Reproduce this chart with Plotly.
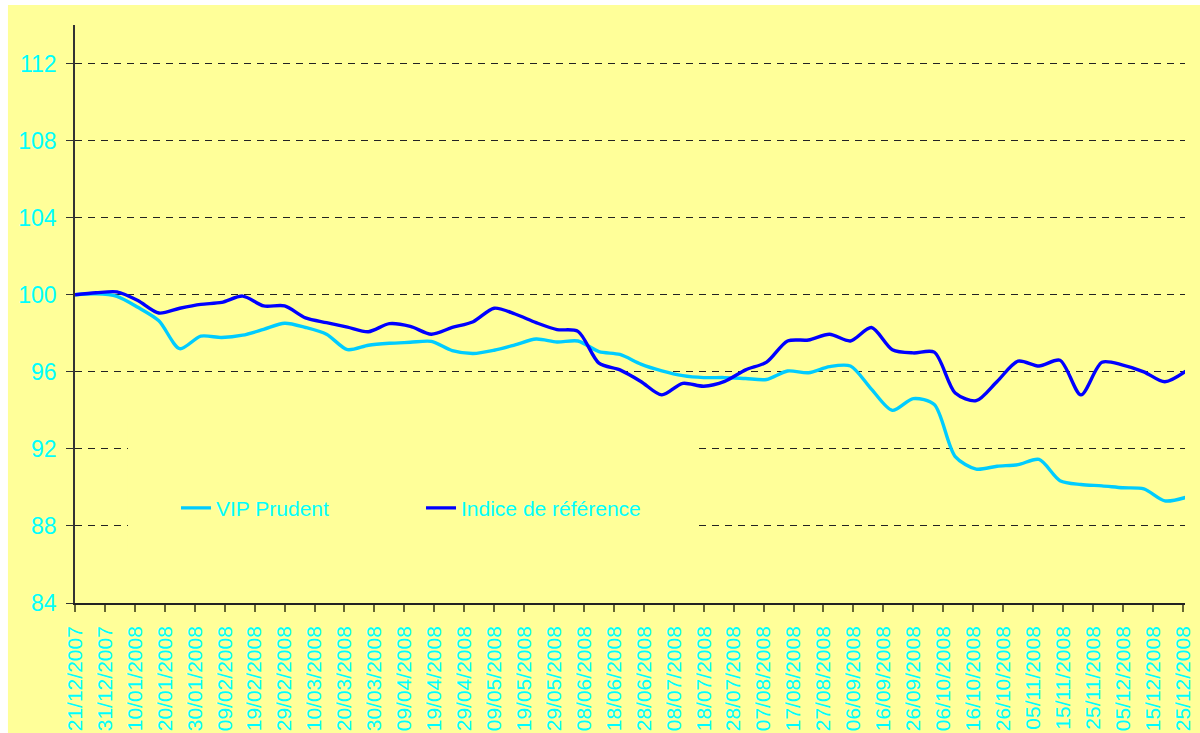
import plotly.graph_objects as go
from datetime import datetime

# ---- data ----
dates = [
    "2007-12-21", "2007-12-28", "2008-01-04", "2008-01-11", "2008-01-18", "2008-01-25",
    "2008-02-01", "2008-02-08", "2008-02-15", "2008-02-22", "2008-02-29", "2008-03-07",
    "2008-03-14", "2008-03-21", "2008-03-28", "2008-04-04", "2008-04-11", "2008-04-18",
    "2008-04-25", "2008-05-02", "2008-05-09", "2008-05-16", "2008-05-23", "2008-05-30",
    "2008-06-06", "2008-06-13", "2008-06-20", "2008-06-27", "2008-07-04", "2008-07-11",
    "2008-07-18", "2008-07-25", "2008-08-01", "2008-08-08", "2008-08-15", "2008-08-22",
    "2008-08-29", "2008-09-05", "2008-09-12", "2008-09-19", "2008-09-26", "2008-10-03",
    "2008-10-10", "2008-10-17", "2008-10-24", "2008-10-31", "2008-11-07", "2008-11-14",
    "2008-11-21", "2008-11-28", "2008-12-05", "2008-12-12", "2008-12-19", "2008-12-26",
]

vip_prudent = [
    100.0, 100.05, 99.92, 99.35, 98.65, 97.2,
    97.85, 97.78, 97.9, 98.2, 98.52, 98.3,
    97.95, 97.15, 97.38, 97.48, 97.53, 97.58,
    97.1, 96.95, 97.12, 97.4, 97.7, 97.55,
    97.6, 97.05, 96.9, 96.4, 96.05, 95.8,
    95.7, 95.7, 95.65, 95.6, 96.04, 95.95,
    96.27, 96.3, 95.1, 94.0, 94.61, 94.3,
    91.6, 90.95, 91.1, 91.18, 91.45, 90.35,
    90.15, 90.08, 89.98, 89.92, 89.3, 89.48,
]

indice_reference = [
    100.0, 100.1, 100.15, 99.7, 99.05, 99.3,
    99.5, 99.6, 99.93, 99.42, 99.42, 98.8,
    98.55, 98.32, 98.08, 98.5, 98.36, 97.95,
    98.3, 98.6, 99.3, 99.0, 98.55, 98.19,
    98.1, 96.45, 96.1, 95.5, 94.8, 95.4,
    95.25, 95.5, 96.1, 96.5, 97.6, 97.65,
    97.95, 97.6, 98.3, 97.15, 96.98, 97.02,
    94.9, 94.5, 95.5, 96.55, 96.3, 96.6,
    94.8, 96.5, 96.35, 96.0, 95.48, 96.03,
]

tick_labels = [
    "21/12/2007", "31/12/2007", "10/01/2008", "20/01/2008", "30/01/2008", "09/02/2008",
    "19/02/2008", "29/02/2008", "10/03/2008", "20/03/2008", "30/03/2008", "09/04/2008",
    "19/04/2008", "29/04/2008", "09/05/2008", "19/05/2008", "29/05/2008", "08/06/2008",
    "18/06/2008", "28/06/2008", "08/07/2008", "18/07/2008", "28/07/2008", "07/08/2008",
    "17/08/2008", "27/08/2008", "06/09/2008", "16/09/2008", "26/09/2008", "06/10/2008",
    "16/10/2008", "26/10/2008", "05/11/2008", "15/11/2008", "25/11/2008", "05/12/2008",
    "15/12/2008", "25/12/2008",
]
tick_vals = [datetime.strptime(t, "%d/%m/%Y").strftime("%Y-%m-%d") for t in tick_labels]

y_ticks = [84, 88, 92, 96, 100, 104, 108, 112]

# ---- style ----
BG = "#FFFF99"
CYAN = "#00FFFF"
FONT = "Arial, 'Liberation Sans', sans-serif"

fig = go.Figure()
fig.add_trace(go.Scatter(
    x=dates, y=vip_prudent, name="VIP Prudent", mode="lines",
    line=dict(color="#00CCFF", width=3.4, shape="spline", smoothing=0.8),
))
fig.add_trace(go.Scatter(
    x=dates, y=indice_reference, name="Indice de référence", mode="lines",
    line=dict(color="#0000FF", width=3.4, shape="spline", smoothing=0.8),
))

# yellow patch hiding gridlines behind the legend (as in the original)
fig.add_shape(type="rect", xref="paper", yref="y", x0=0.0477, x1=0.5595, y0=86.6, y1=93.4,
              fillcolor=BG, line=dict(width=0), layer="above")
# white outer border strips (left / top)
fig.add_shape(type="rect", xref="paper", yref="paper", x0=-0.08, x1=-0.0604, y0=-0.3, y1=1.1,
              fillcolor="white", line=dict(width=0), layer="above")
fig.add_shape(type="rect", xref="paper", yref="paper", x0=-0.08, x1=1.05, y0=1.0346, y1=1.1,
              fillcolor="white", line=dict(width=0), layer="above")

fig.update_layout(
    width=1200, height=733,
    margin=dict(l=75, r=15, t=25, b=130),
    paper_bgcolor=BG, plot_bgcolor=BG,
    font=dict(family=FONT, size=21, color=CYAN),
    showlegend=True,
    legend=dict(
        orientation="h", x=0.091, xanchor="left", y=0.164, yanchor="middle",
        bgcolor="rgba(0,0,0,0)", borderwidth=0,
        font=dict(family=FONT, size=21, color=CYAN),
        entrywidth=200, itemwidth=30,
    ),
    xaxis=dict(
        type="date", automargin=False,
        range=["2007-12-21", "2008-12-25 18:00"],
        tickmode="array", tickvals=tick_vals, ticktext=tick_labels,
        tickangle=-90, ticks="outside", ticklen=7, tickcolor="#666633", tickwidth=1.5,
        ticklabelstandoff=6,
        showline=True, linecolor="#222222", linewidth=1.5,
        showgrid=False, zeroline=False,
        tickfont=dict(family=FONT, size=21, color=CYAN),
    ),
    yaxis=dict(
        range=[84, 114], automargin=False,
        tickmode="array", tickvals=y_ticks,
        ticks="outside", ticklen=7, tickcolor="#333333", tickwidth=1,
        ticklabelstandoff=5,
        showline=True, linecolor="#333333", linewidth=1.5,
        showgrid=True, gridcolor="#222222", gridwidth=1, griddash="7px,6px",
        zeroline=False,
        tickfont=dict(family=FONT, size=23, color=CYAN),
    ),
)

fig.write_html("out.html", post_script="document.body.style.margin='0';",
               config={"displayModeBar": False})
